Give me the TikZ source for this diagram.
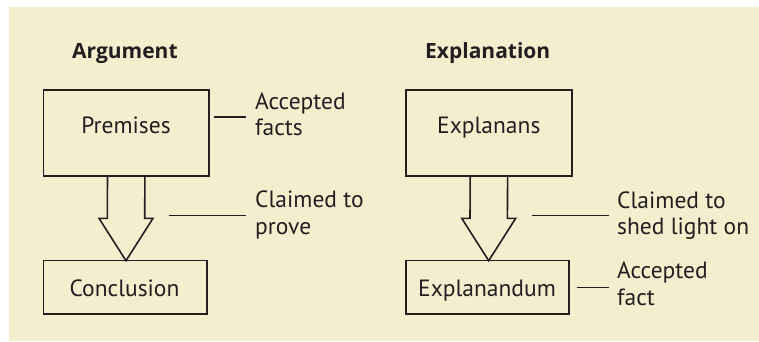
\documentclass[tikz,border=0pt]{standalone}
\usepackage{fontspec}
\setmainfont{PT Sans}
\newfontfamily\titlefont{Open Sans}
\usetikzlibrary{calc}
\definecolor{bgc}{HTML}{F4EECF}
\definecolor{ink}{HTML}{231F20}
\begin{document}
\begin{tikzpicture}[x=1pt,y=-1pt,
  every node/.style={text=ink, font=\fontsize{23.5}{26.3}\selectfont},
  box/.style={draw=ink, line width=1.6pt, inner sep=0pt},
  txt/.style={anchor=base, inner sep=0pt},
  lbl/.style={anchor=base west, align=left, inner sep=0pt},
  ttl/.style={anchor=base west, inner sep=0pt, font=\titlefont\fontsize{21}{26}\selectfont\bfseries},
  lead/.style={draw=ink, line width=1.4pt},
  blockarrow/.style={draw=ink, line width=1.6pt, line join=miter}]
\useasboundingbox (0,0) rectangle (759,341);
\fill[bgc] (9,7) rectangle (759,341);

% titles
\node[ttl] (targ) at (72,58) {Argument};
\node[ttl] (texp) at (425,58) {Explanation};

% boxes
\node[box, minimum width=165.7pt, minimum height=85.7pt] (prem) at (126.2,132.9) {};
\node[txt] (premt) at (126,133.3) {Premises};
\node[box, minimum width=163.4pt, minimum height=53.3pt] (concl) at (125,287.3) {};
\node[txt] (conclt) at (124.5,296) {Conclusion};
\node[box, minimum width=165.7pt, minimum height=85.7pt] (expl) at (488.9,132.9) {};
\node[txt] (explt) at (488.8,133.3) {Explanans};
\node[box, minimum width=163pt, minimum height=53.3pt] (expd) at (487.5,287.3) {};
\node[txt] (expdt) at (487,296) {Explanandum};

% block arrows
\coordinate (tipA) at (126,260.7);
\draw[blockarrow] ($(prem.south)+(-18.7,0)$) -- ($(tipA)+(-18.7,-42.4)$) -- ($(tipA)+(-27,-42.4)$) -- (tipA)
  -- ($(tipA)+(27,-42.4)$) -- ($(tipA)+(18.7,-42.4)$) -- ($(prem.south)+(18.7,0)$);
\coordinate (tipB) at (488.7,260.7);
\draw[blockarrow] ($(expl.south)+(-18.7,0)$) -- ($(tipB)+(-18.7,-42.4)$) -- ($(tipB)+(-27,-42.4)$) -- (tipB)
  -- ($(tipB)+(27,-42.4)$) -- ($(tipB)+(18.7,-42.4)$) -- ($(expl.south)+(18.7,0)$);

% labels (anchored on the baseline of their last line)
\node[lbl] (acc1) at (255,135.7) {Accepted\\facts};
\node[lbl] (clm1) at (255,234) {Claimed to\\prove};
\node[lbl] (clm2) at (617,234.3) {Claimed to\\shed light on};
\node[lbl] (acc2) at (617,305) {Accepted\\fact};

% leader lines
\coordinate (a1s) at (214,117);   \coordinate (a1e) at (246,117);
\coordinate (c1s) at (169,215.7); \coordinate (c1e) at (245.7,215.7);
\coordinate (c2s) at (531.7,215.7); \coordinate (c2e) at (608.5,215.7);
\coordinate (a2s) at (577.3,287.3); \coordinate (a2e) at (608.5,287.3);
\draw[lead] (a1s) -- (a1e);
\draw[lead] (c1s) -- (c1e);
\draw[lead] (c2s) -- (c2e);
\draw[lead] (a2s) -- (a2e);
\end{tikzpicture}
\end{document}
